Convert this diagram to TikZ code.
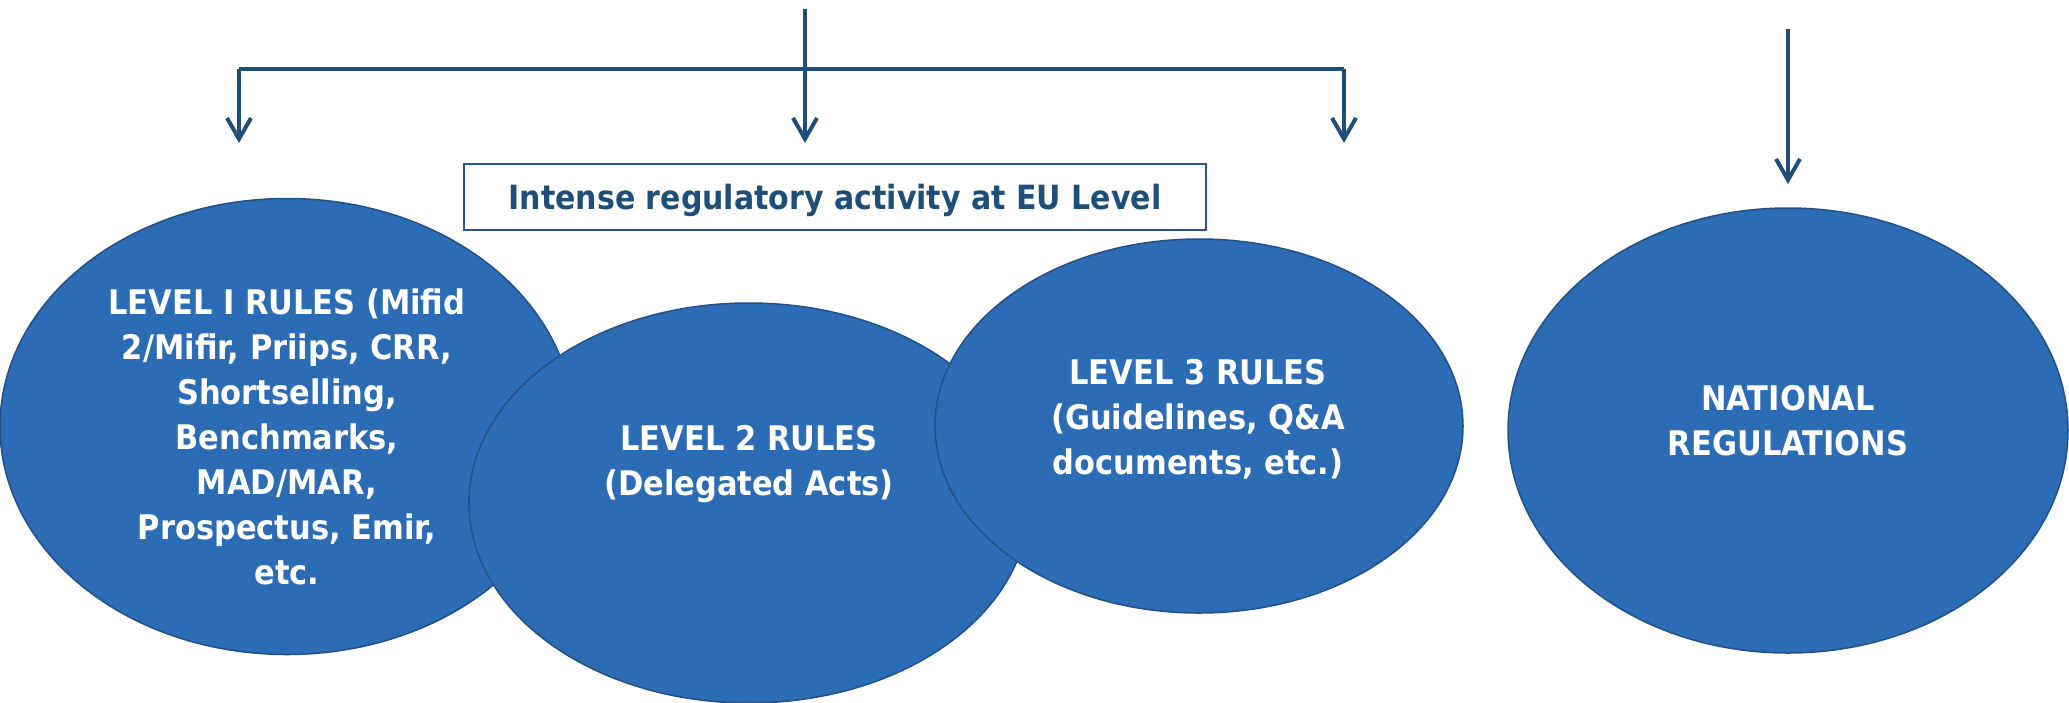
\documentclass[tikz,border=0pt]{standalone}
\usepackage{fontspec}
\setmainfont{DejaVu Sans Condensed}
\usetikzlibrary{arrows.meta,shapes.geometric}
\definecolor{efill}{RGB}{44,108,180}
\definecolor{eline}{RGB}{35,80,135}
\definecolor{navy}{RGB}{31,78,121}
\definecolor{boxline}{RGB}{47,84,150}
\newlength\wA
\newlength\wB
\newcommand\ovfont{\bfseries\fontsize{\fsE pt}{45pt}\selectfont}
\newcommand\boxfont{\bfseries\fontsize{\fsB pt}{36pt}\selectfont}
\begin{document}
\settowidth\wA{\bfseries\fontsize{30pt}{30pt}\selectfont LEVEL I RULES (Mifid}%
\settowidth\wB{\bfseries\fontsize{30pt}{30pt}\selectfont Intense regulatory activity at EU Level}%
\pgfmathsetmacro\fsE{357/\wA*30}%
\pgfmathsetmacro\fsB{653/\wB*30}%
\begin{tikzpicture}[x=1pt,y=-1pt,
  oval/.style={ellipse, draw=eline, line width=1.5pt, fill=efill, inner sep=0pt},
  ovtext/.style={text=white, align=center, inner sep=0pt, font=\ovfont},
  conn/.style={draw=navy, line width=4pt},
  arr/.style={conn, -{Straight Barb[length=21pt,width=24pt]}},
  infobox/.style={draw=boxline, line width=2pt, fill=white, inner sep=0pt,
    minimum width=742pt, minimum height=66pt, text=navy, font=\boxfont}]
\useasboundingbox (0,0) rectangle (2069,702);

% ellipses
\node[oval, minimum width=574pt, minimum height=456pt] (e1) at (287,426.5) {};
\node[oval, minimum width=560pt, minimum height=400pt] (e2) at (749,503) {};
\node[oval, minimum width=528pt, minimum height=374pt] (e3) at (1199,426) {};
\node[oval, minimum width=560pt, minimum height=445pt] (e4) at (1788,430.5) {};

% texts
\node[ovtext] (t1) at (287,436.5) {LEVEL I RULES (Mifid\\2/Mifir, Priips, CRR,\\Shortselling,\\Benchmarks,\\MAD/MAR,\\Prospectus, Emir,\\etc.};
\node[ovtext] (t2) at (749,464.5) {LEVEL 2 RULES\\(Delegated Acts)};
\node[ovtext] (t3) at (1198,419) {LEVEL 3 RULES\\(Guidelines, Q\&A\\documents, etc.)};
\node[ovtext] (t4) at (1788,420.5) {NATIONAL\\REGULATIONS};

% box
\node[infobox, text height=24pt, text depth=0pt] (box) at (835,197) {Intense regulatory activity at EU Level};

% connectors
\coordinate (top) at (805,9);
\coordinate (cL) at (239,69);
\coordinate (cR) at (1344,69);
\coordinate (tipL) at (239,143);
\coordinate (tipC) at (805,143);
\coordinate (tipR) at (1344,143);
\coordinate (natTop) at (1788,29);
\coordinate (tipN) at (1788,184);
\draw[conn] (cL) -- (cR);
\draw[arr] (cL) -- (tipL);
\draw[arr] (top) -- (tipC);
\draw[arr] (cR) -- (tipR);
\draw[arr] (natTop) -- (tipN);
\end{tikzpicture}
\end{document}
